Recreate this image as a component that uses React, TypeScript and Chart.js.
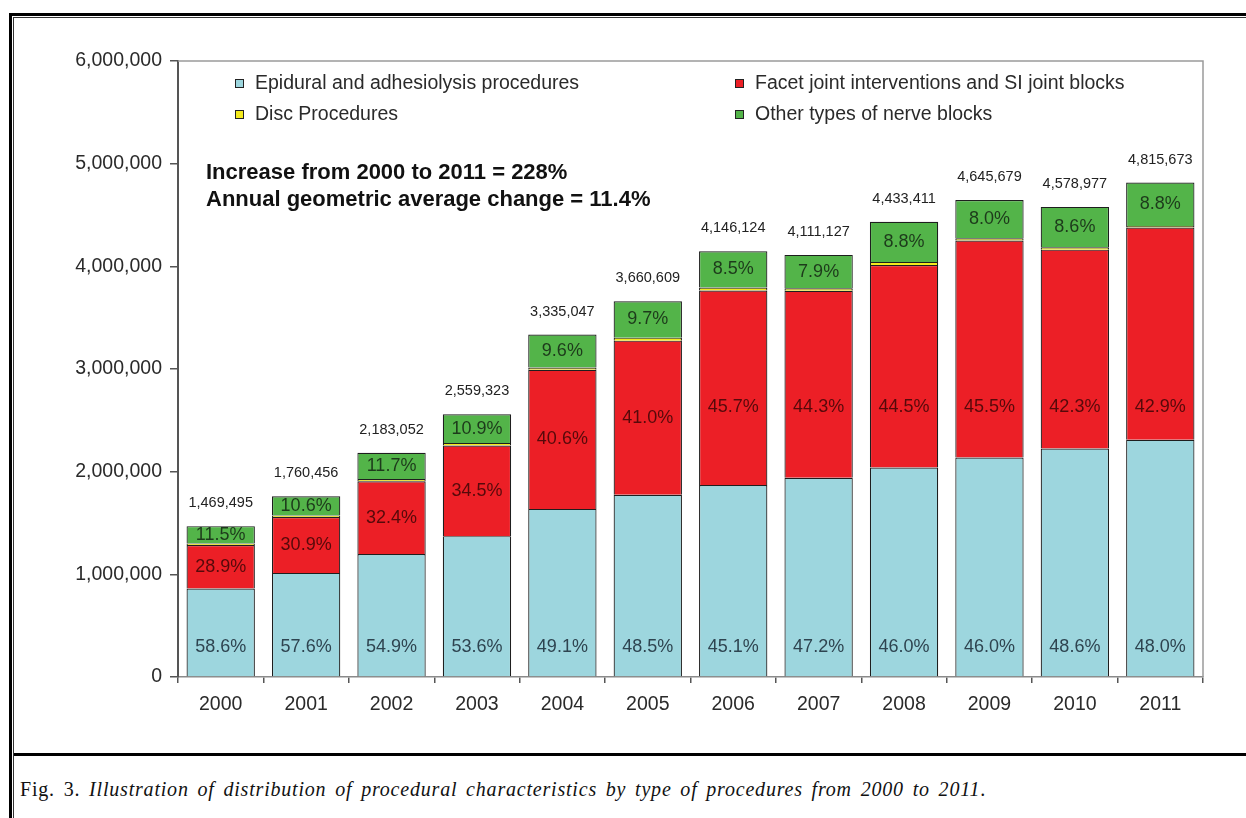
import React, { useEffect, useRef } from "react";
import { Chart, registerables } from "chart.js";

Chart.register(...registerables);

const years = ["2000", "2001", "2002", "2003", "2004", "2005", "2006", "2007", "2008", "2009", "2010", "2011"];
const totals = [1469495, 1760456, 2183052, 2559323, 3335047, 3660609, 4146124, 4111127, 4433411, 4645679, 4578977, 4815673];
const epiPct = [58.6, 57.6, 54.9, 53.6, 49.1, 48.5, 45.1, 47.2, 46.0, 46.0, 48.6, 48.0];
const facetPct = [28.9, 30.9, 32.4, 34.5, 40.6, 41.0, 45.7, 44.3, 44.5, 45.5, 42.3, 42.9];
const discPct = [1.0, 0.9, 1.0, 1.0, 0.7, 0.8, 0.7, 0.6, 0.7, 0.5, 0.5, 0.3];
const otherPct = [11.5, 10.6, 11.7, 10.9, 9.6, 9.7, 8.5, 7.9, 8.8, 8.0, 8.6, 8.8];
const yTicks = [0, 1000000, 2000000, 3000000, 4000000, 5000000, 6000000];

const seriesNames = [
  "Epidural and adhesiolysis procedures",
  "Facet joint interventions and SI joint blocks",
  "Disc Procedures",
  "Other types of nerve blocks",
];
const noteLines = ["Increase from 2000 to 2011 = 228%", "Annual geometric average change = 11.4%"];

const COLORS = ["#9dd6de", "#ec1f26", "#f4ea1c", "#53b449"];
const SANS = "'Liberation Sans', Arial, sans-serif";

const toValues = (pct: number[]) => pct.map((p, i) => (totals[i] * p) / 100);
const fmt = (n: number) => Math.round(n).toLocaleString("en-US");

const overlayPlugin = {
  id: "overlay",
  afterDraw(chart: any) {
    const { ctx, chartArea, scales } = chart;
    const ys = scales.y;
    ctx.save();
    // plot frame top & right
    ctx.strokeStyle = "#9a9a9a";
    ctx.lineWidth = 1.5;
    ctx.beginPath();
    ctx.moveTo(chartArea.left, chartArea.top);
    ctx.lineTo(chartArea.right, chartArea.top);
    ctx.lineTo(chartArea.right, chartArea.bottom);
    ctx.stroke();

    // legend
    ctx.font = `19.5px ${SANS}`;
    ctx.textBaseline = "middle";
    ctx.textAlign = "left";
    const legendPos = [
      [235, 84],
      [735, 84],
      [235, 115],
      [735, 115],
    ];
    seriesNames.forEach((name, k) => {
      const [lx, ly] = legendPos[k];
      ctx.fillStyle = COLORS[k];
      ctx.fillRect(lx, ly - 5, 9, 9);
      ctx.strokeStyle = "#222";
      ctx.lineWidth = 1;
      ctx.strokeRect(lx + 0.5, ly - 4.5, 8, 8);
      ctx.fillStyle = "#2a2a2a";
      ctx.fillText(name, lx + 20, ly);
    });

    // note
    ctx.font = `bold 22px ${SANS}`;
    ctx.fillStyle = "#111";
    ctx.textBaseline = "alphabetic";
    ctx.fillText(noteLines[0], 206, 179);
    ctx.fillText(noteLines[1], 206, 206);

    // bar labels
    const meta = chart.getDatasetMeta(0);
    const epi = toValues(epiPct);
    const facet = toValues(facetPct);
    const other = toValues(otherPct);
    ctx.textAlign = "center";
    ctx.textBaseline = "middle";
    meta.data.forEach((bar: any, i: number) => {
      const x = bar.x;
      ctx.font = `18px ${SANS}`;
      ctx.fillStyle = "#2e4450";
      ctx.fillText(`${epiPct[i].toFixed(1)}%`, x, ys.getPixelForValue(0) - 30);
      const facetMid = Math.min(epi[i] + facet[i] / 2, 2630000);
      ctx.fillStyle = "rgba(60,6,6,0.85)";
      ctx.fillText(`${facetPct[i].toFixed(1)}%`, x, ys.getPixelForValue(facetMid));
      ctx.fillStyle = "#1d3a1b";
      ctx.fillText(`${otherPct[i].toFixed(1)}%`, x, ys.getPixelForValue(totals[i] - other[i] / 2));
      ctx.font = `14.5px ${SANS}`;
      ctx.fillStyle = "#222";
      ctx.fillText(fmt(totals[i]), x, ys.getPixelForValue(totals[i]) - 23);
    });
    ctx.restore();
  },
};

export default function App() {
  const ref = useRef<HTMLCanvasElement>(null);
  useEffect(() => {
    const datasets = [epiPct, facetPct, discPct, otherPct].map((pct, k) => ({
      label: seriesNames[k],
      data: toValues(pct),
      backgroundColor: COLORS[k],
      borderColor: "#1e1e1e",
      borderWidth: 1.2,
      barPercentage: 0.8,
      categoryPercentage: 1.0,
    }));
    const chart = new Chart(ref.current as HTMLCanvasElement, {
      type: "bar",
      data: { labels: years, datasets },
      options: {
        responsive: false,
        animation: false,
        devicePixelRatio: 1,
        layout: { padding: { left: 0, top: 61, right: 43, bottom: 0 } },
        plugins: { legend: { display: false }, tooltip: { enabled: false } },
        scales: {
          x: {
            stacked: true,
            grid: { offset: true, drawOnChartArea: false, drawTicks: true, tickLength: 6, color: "#555", lineWidth: 1.5 },
            border: { display: true, color: "#8a8a8a", width: 1.5 },
            ticks: { color: "#2a2a2a", font: { family: SANS, size: 19.5 }, padding: 10 },
            afterFit: (s: any) => {
              s.height = 73;
            },
          },
          y: {
            stacked: true,
            min: 0,
            max: 6000000,
            afterBuildTicks: (s: any) => {
              s.ticks = yTicks.map((v) => ({ value: v }));
            },
            ticks: {
              color: "#2a2a2a",
              font: { family: SANS, size: 19.5 },
              padding: 8,
              callback: (v: any) => fmt(Number(v)),
            },
            grid: { drawOnChartArea: false, drawTicks: true, tickLength: 8, color: "#555", lineWidth: 1.5 },
            border: { display: true, color: "#555", width: 2 },
            afterFit: (s: any) => {
              s.width = 178;
            },
          },
        },
      },
      plugins: [overlayPlugin],
    } as any);
    return () => chart.destroy();
  }, []);

  return (
    <div style={{ position: "fixed", left: 0, top: 0, width: 1246, height: 818, overflow: "hidden", background: "#fff" }}>
      <div style={{ position: "absolute", left: 9, top: 13, width: 1400, height: 900, borderLeft: "3px solid #000", borderTop: "3px solid #000" }} />
      <div style={{ position: "absolute", left: 13, top: 17, width: 1400, height: 900, borderLeft: "1.5px solid #333", borderTop: "1.5px solid #333" }} />
      <div style={{ position: "absolute", left: 14, top: 753, width: 1400, height: 0, borderTop: "3px solid #000" }} />
      <div
        style={{
          position: "absolute",
          left: 20,
          top: 779,
          whiteSpace: "nowrap",
          fontFamily: "'Liberation Serif', 'Times New Roman', serif",
          fontSize: 20,
          lineHeight: "20px",
          color: "#111",
          letterSpacing: "0.8px",
          wordSpacing: "3px",
        }}
      >
        Fig. 3. <i>Illustration of distribution of procedural characteristics by type of procedures from 2000 to 2011</i>.
      </div>
      <canvas ref={ref} width={1246} height={750} style={{ position: "absolute", left: 0, top: 0, width: 1246, height: 750 }} />
    </div>
  );
}
